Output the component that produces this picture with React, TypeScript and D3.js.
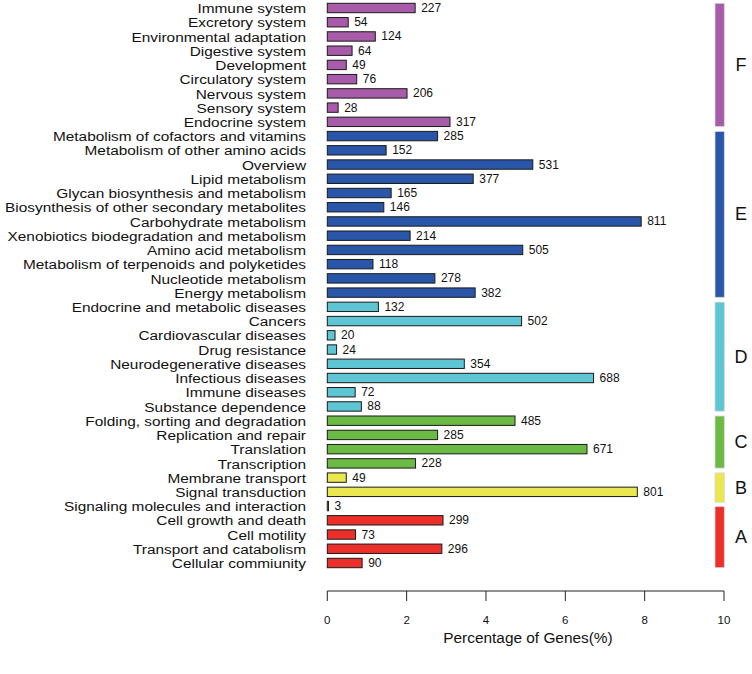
import React from "react";
import * as d3 from "d3";

const categories: string[] = [
  "Immune system", "Excretory system", "Environmental adaptation", "Digestive system",
  "Development", "Circulatory system", "Nervous system", "Sensory system", "Endocrine system",
  "Metabolism of cofactors and vitamins", "Metabolism of other amino acids", "Overview",
  "Lipid metabolism", "Glycan biosynthesis and metabolism",
  "Biosynthesis of other secondary metabolites", "Carbohydrate metabolism",
  "Xenobiotics biodegradation and metabolism", "Amino acid metabolism",
  "Metabolism of terpenoids and polyketides", "Nucleotide metabolism", "Energy metabolism",
  "Endocrine and metabolic diseases", "Cancers", "Cardiovascular diseases", "Drug resistance",
  "Neurodegenerative diseases", "Infectious diseases", "Immune diseases", "Substance dependence",
  "Folding, sorting and degradation", "Replication and repair", "Translation", "Transcription",
  "Membrane transport", "Signal transduction", "Signaling molecules and interaction",
  "Cell growth and death", "Cell motility", "Transport and catabolism", "Cellular commiunity",
];

const geneCounts: number[] = [
  227, 54, 124, 64, 49, 76, 206, 28, 317,
  285, 152, 531, 377, 165, 146, 811, 214, 505, 118, 278, 382,
  132, 502, 20, 24, 354, 688, 72, 88,
  485, 285, 671, 228,
  49, 801, 3,
  299, 73, 296, 90,
];

const categoryGroup: string[] = [
  "F", "F", "F", "F", "F", "F", "F", "F", "F",
  "E", "E", "E", "E", "E", "E", "E", "E", "E", "E", "E", "E",
  "D", "D", "D", "D", "D", "D", "D", "D",
  "C", "C", "C", "C",
  "B", "B", "B",
  "A", "A", "A", "A",
];

const TOTAL_GENES = 10250;

const groupLabels: string[] = ["F", "E", "D", "C", "B", "A"];
const groupColors: string[] = ["#A75BA8", "#2A56AA", "#5DC5D3", "#6BBA44", "#EAE84E", "#EC2F2B"];
// strip extents in row units
const groupStart: number[] = [-0.33, 8.67, 20.67, 28.67, 32.67, 35.04];
const groupEnd: number[] = [8.33, 20.33, 28.33, 32.33, 34.73, 39.33];

const xTicks: number[] = [0, 2, 4, 6, 8, 10];
const xTitle = "Percentage of Genes(%)";

const FONT = "'Liberation Sans', Arial, Helvetica, sans-serif";

export default function App() {
  const W = 752, H = 674;
  const x = d3.scaleLinear().domain([0, 10]).range([327.3, 724]);
  const y = d3.scaleLinear().domain([0, categories.length - 1]).range([8, 563]);
  const color = d3.scaleOrdinal<string, string>().domain(groupLabels).range(groupColors);
  const barH = 9.4;
  const axisY = 591;

  return (
    <svg width={W} height={H} style={{ position: "absolute", left: 0, top: 0, background: "#fff" }}
      fontFamily={FONT}>
      <rect x={0} y={0} width={W} height={H} fill="#fff" />
      {categories.map((c, i) => {
        const pct = (geneCounts[i] / TOTAL_GENES) * 100;
        const cy = y(i);
        return (
          <g key={c}>
            <text transform={`translate(306,${cy + 0.5}) scale(1.14,1)`} textAnchor="end"
              dominantBaseline="central" fontSize={13.5} fill="#111">{c}</text>
            <rect x={x(0)} y={cy - barH / 2} width={Math.max(x(pct) - x(0), 1)} height={barH}
              fill={color(categoryGroup[i])} stroke="#1a1a1a" strokeWidth={1} />
            <text x={x(pct) + 6} y={cy} dominantBaseline="central" fontSize={12} fill="#111">{geneCounts[i]}</text>
          </g>
        );
      })}
      {groupLabels.map((g, k) => {
        const y0 = y(groupStart[k]);
        const y1 = y(groupEnd[k]);
        return (
          <g key={g}>
            <rect x={715} y={y0} width={9.3} height={y1 - y0} fill={groupColors[k]} stroke="#d8d8d8" strokeWidth={0.8} />
            <text x={741} y={(y0 + y1) / 2} textAnchor="middle" dominantBaseline="central" fontSize={18} fill="#111">{g}</text>
          </g>
        );
      })}
      <g>
        <line x1={x(0)} x2={x(10)} y1={axisY} y2={axisY} stroke="#222" strokeWidth={1} />
        {xTicks.map((t) => (
          <g key={t}>
            <line x1={x(t)} x2={x(t)} y1={axisY} y2={axisY + 10} stroke="#222" strokeWidth={1} />
            <text x={x(t)} y={620} textAnchor="middle" dominantBaseline="central" fontSize={11.5} fill="#111">{t}</text>
          </g>
        ))}
        <text x={528} y={637} textAnchor="middle" dominantBaseline="central" fontSize={15.4} fill="#111">{xTitle}</text>
      </g>
    </svg>
  );
}
